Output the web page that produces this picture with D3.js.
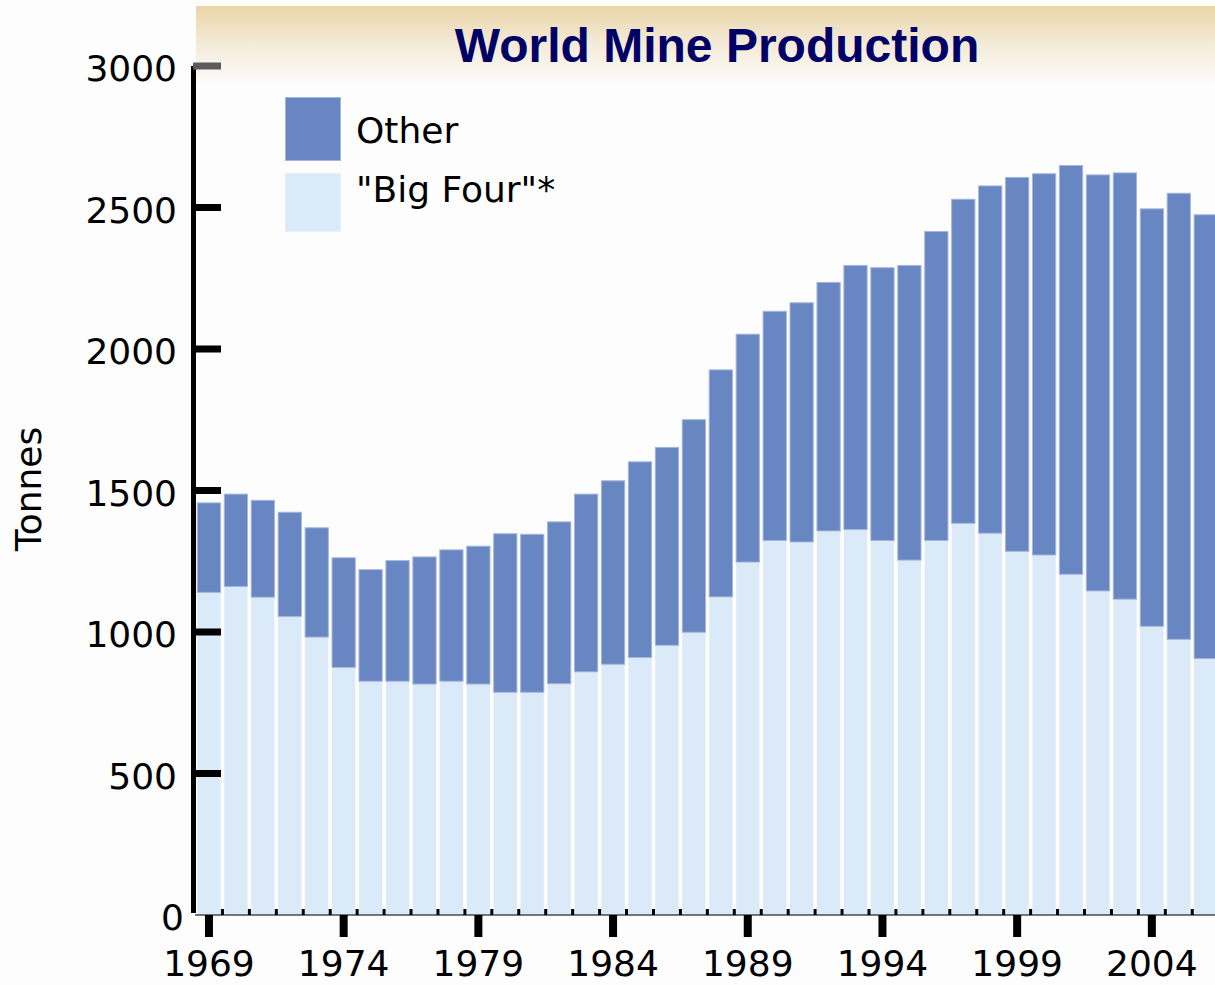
<!DOCTYPE html>
<html>
<head>
<meta charset="utf-8">
<script src="https://cdn.jsdelivr.net/npm/d3@7"></script>
<style>
  html, body { margin: 0; padding: 0; background: #fdfdfd; overflow: hidden; }
  svg { display: block; }
  text { font-family: "DejaVu Sans", Verdana, sans-serif; fill: #000; }
</style>
</head>
<body>
<svg id="chart" width="1215" height="985"></svg>
<script>
//
// Data (tonnes)
//

var years = d3.range(1969, 2007)
var bigFour = [1140, 1161, 1123, 1055, 982, 875, 826, 826, 816, 826,
  816, 787, 787, 817, 859, 886, 910, 953, 999, 1124,
  1247, 1323, 1318, 1357, 1362, 1323, 1254, 1323, 1384, 1349,
  1285, 1272, 1204, 1145, 1116, 1020, 974, 906]
var other = [318, 328, 344, 370, 388, 389, 396, 428, 451, 466,
  489, 562, 560, 574, 630, 650, 693, 701, 753, 804,
  807, 812, 847, 880, 935, 966, 1043, 1094, 1147, 1229,
  1323, 1349, 1446, 1472, 1508, 1477, 1578, 1570]
var yTicks = [0, 500, 1000, 1500, 2000, 2500, 3000]
var seriesNames = ['bigFour', 'other']
var legendLabels = ['Other', '"Big Four"*']

//
// Config
//

var width = 1215
var height = 985
var colorOther = '#6886c1'
var colorBig = '#dbeaf8'
var colorOtherEdge = '#a4b6de'

var svg = d3.select('#chart')
var rows = years.map(function(y, i) {
  return { year: y, bigFour: bigFour[i], other: other[i] }
})

var x = d3.scaleBand()
  .domain(years)
  .range([195.5, 1219.2])
  .paddingInner(0.1)
  .paddingOuter(0.05)
var y = d3.scaleLinear().domain([0, 3000]).range([915, 66])
var step = x.step()
var gap = step - x.bandwidth()

// header gradient
var defs = svg.append('defs')
var grad = defs.append('linearGradient')
  .attr('id', 'head').attr('x1', 0).attr('y1', 0).attr('x2', 0).attr('y2', 1)
grad.append('stop').attr('offset', '0%').attr('stop-color', '#e9d5a6')
grad.append('stop').attr('offset', '45%').attr('stop-color', '#f3e9d6')
grad.append('stop').attr('offset', '100%').attr('stop-color', '#fdfdfd')

svg.append('rect')
  .attr('x', 196).attr('y', 6)
  .attr('width', width - 196).attr('height', 80)
  .attr('fill', 'url(#head)')

// title
svg.append('text')
  .attr('x', 717).attr('y', 62)
  .attr('text-anchor', 'middle')
  .style('font-family', '"Liberation Sans", Arial, sans-serif')
  .style('font-weight', 'bold')
  .style('font-size', '48px')
  .style('fill', '#000066')
  .text('World Mine Production')

// stacked bars
var stack = d3.stack().keys(seriesNames)
var layers = stack(rows)

svg.append('g').selectAll('g')
  .data(layers)
  .join('g')
  .attr('fill', function(d) { return d.key === 'other' ? colorOther : colorBig })
  .attr('stroke', function(d) { return d.key === 'other' ? colorOtherEdge : 'none' })
  .attr('stroke-width', 1)
  .selectAll('rect')
  .data(function(d) { return d })
  .join('rect')
  .attr('x', function(d) { return x(d.data.year) + 0.5 })
  .attr('width', x.bandwidth() - 1)
  .attr('y', function(d) { return y(d[1]) + 0.5 })
  .attr('height', function(d) { return Math.max(0, y(d[0]) - y(d[1]) - 0.5) })

// x axis line
svg.append('line')
  .attr('x1', 195).attr('x2', width)
  .attr('y1', 915).attr('y2', 915)
  .attr('stroke', '#4a4a4a').attr('stroke-width', 1.5)

// minor ticks at bar boundaries
svg.append('g').selectAll('rect')
  .data(years.slice(1))
  .join('rect')
  .attr('x', function(d) { return x(d) - gap / 2 - 1.5 })
  .attr('y', 909)
  .attr('width', 3).attr('height', 6)
  .attr('fill', '#000')

// major ticks + labels every 5 years
var major = years.filter(function(d) { return (d - 1969) % 5 === 0 })
svg.append('g').selectAll('rect')
  .data(major)
  .join('rect')
  .attr('x', function(d) { return x(d) + x.bandwidth() / 2 - 4 })
  .attr('y', 915)
  .attr('width', 8).attr('height', 22)
  .attr('fill', '#000')

svg.append('g').selectAll('text')
  .data(major)
  .join('text')
  .attr('x', function(d) { return x(d) + x.bandwidth() / 2 })
  .attr('y', 976)
  .attr('text-anchor', 'middle')
  .style('font-size', '36px')
  .text(function(d) { return d })

// y axis
svg.append('rect')
  .attr('x', 191).attr('y', 66)
  .attr('width', 5).attr('height', 847)
  .attr('fill', '#000')

svg.append('g').selectAll('rect')
  .data(yTicks.filter(function(d) { return d > 0 }))
  .join('rect')
  .attr('x', function(d) { return d === 3000 ? 193 : 196 })
  .attr('y', function(d) { return y(d) - 3.5 })
  .attr('width', function(d) { return d === 3000 ? 28 : 25 })
  .attr('height', 7)
  .attr('fill', function(d) { return d === 3000 ? '#5b5b5b' : '#000' })

svg.append('g').selectAll('text')
  .data(yTicks)
  .join('text')
  .attr('x', function(d) { return d === 0 ? 184 : 177 })
  .attr('y', function(d) { return y(d) + 15 })
  .attr('text-anchor', 'end')
  .style('font-size', '36px')
  .text(function(d) { return d })

// y title
svg.append('text')
  .attr('transform', 'translate(41,489) rotate(-90)')
  .attr('text-anchor', 'middle')
  .style('font-size', '36px')
  .text('Tonnes')

// legend
var legend = [
  { label: legendLabels[0], fill: colorOther, edge: colorOtherEdge, y0: 97, h: 63, ty: 143 },
  { label: legendLabels[1], fill: colorBig, edge: '#e6f0fa', y0: 173, h: 58, ty: 202 }
]
var lg = svg.append('g').selectAll('g').data(legend).join('g')
lg.append('rect')
  .attr('x', 285.5).attr('y', function(d) { return d.y0 + 0.5 })
  .attr('width', 55).attr('height', function(d) { return d.h })
  .attr('fill', function(d) { return d.fill })
  .attr('stroke', function(d) { return d.edge })
lg.append('text')
  .attr('x', 356).attr('y', function(d) { return d.ty })
  .style('font-size', '36px')
  .text(function(d) { return d.label })
</script>
</body>
</html>
